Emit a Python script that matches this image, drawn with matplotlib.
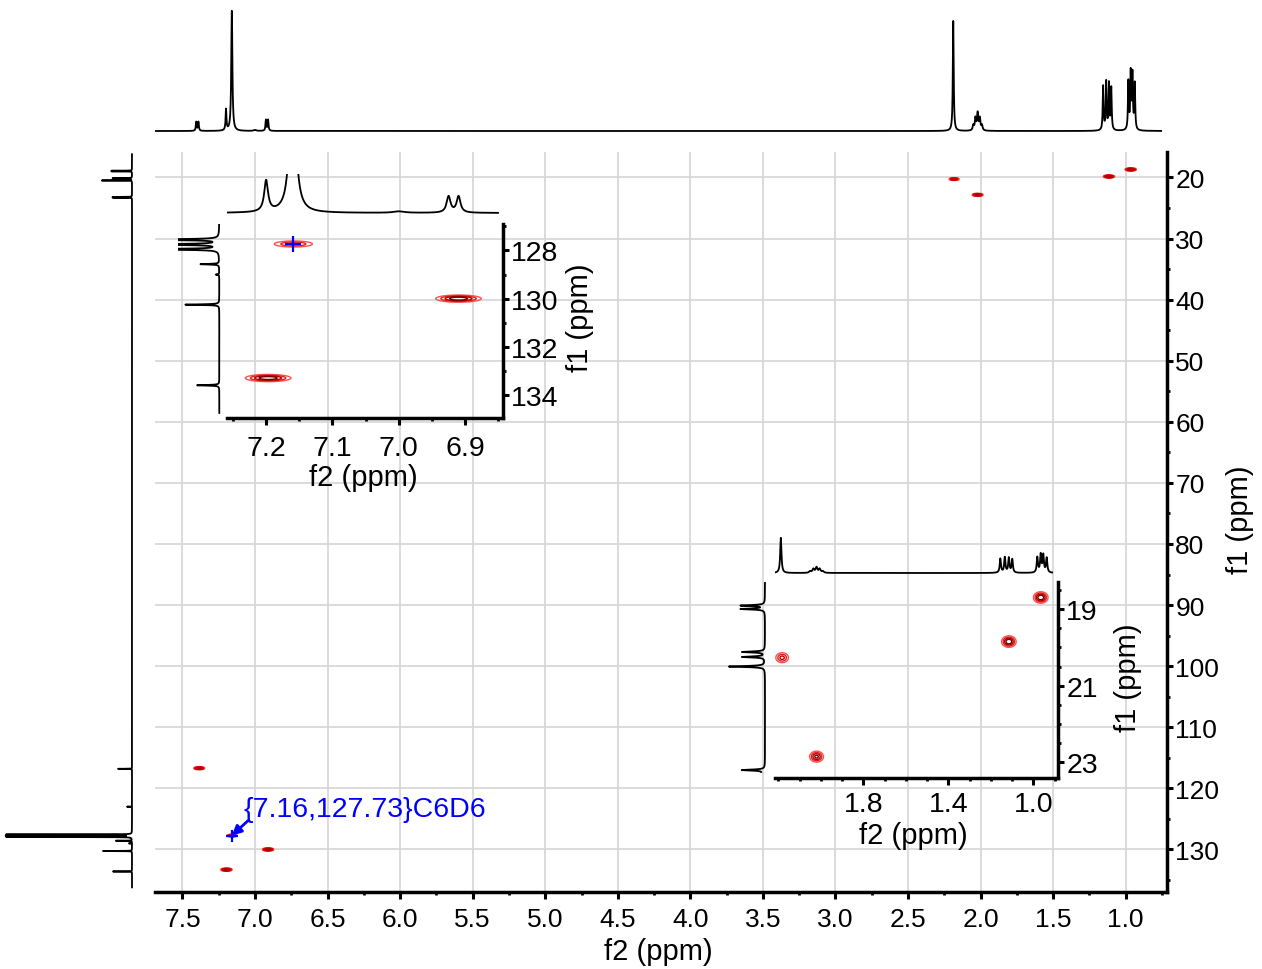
import numpy as np
import matplotlib
matplotlib.use('Agg')
import matplotlib.pyplot as plt
from matplotlib.ticker import MultipleLocator, FixedLocator, FormatStrFormatter

plt.rcParams['font.family'] = ['Liberation Sans', 'DejaVu Sans']

W, H = 1262, 970

# ---------------- data ----------------
# 1H projection peaks: position (ppm), height (px in main projection), half width (ppm)
h_ppm = [7.405, 7.390, 7.200, 7.160, 7.000, 6.925, 6.910, 2.188,
         2.050, 2.035, 2.020, 2.005, 1.990,
         1.155, 1.134, 1.115, 1.099, 0.981, 0.965, 0.953, 0.937]
h_int = [9, 9, 21, 120, 1, 11, 11, 110,
         5, 12, 17, 12, 5,
         44, 48, 46, 42, 48, 56, 54, 46]
h_wid = [0.0035, 0.0035, 0.0035, 0.0045, 0.01, 0.0035, 0.0035, 0.0035,
         0.005, 0.005, 0.005, 0.005, 0.005,
         0.0035, 0.0035, 0.0035, 0.0035, 0.0035, 0.0035, 0.0035, 0.0035]

# 13C projection peaks: position (ppm), height (px in main projection)
c_ppm = [18.91, 19.00, 20.12, 20.25, 20.50, 23.20, 23.30, 116.8, 123.0,
         127.55, 127.75, 127.95, 128.57, 129.0, 130.25, 133.6]
c_int = [20, 20, 19, 19, 30, 19, 19, 14, 5,
         125, 125, 125, 16, 3, 29, 19]
c_wid = 0.015

# HSQC cross peaks
hsqc_f2 = [0.965, 1.115, 2.182, 2.020, 7.385, 7.197, 6.910, 7.159]
hsqc_f1 = [18.70, 19.85, 20.27, 22.85, 116.70, 133.30, 130.00, 127.73]
hsqc_amp = [1.0, 1.0, 0.55, 0.8, 0.8, 1.0, 1.0, 0.5]
sig_f2, sig_f1 = 0.016, 0.07
levels = [0.1, 0.25, 0.45, 0.7]
inset_colors = ['#ff5050', '#e61e1e', '#b40000', '#700000']
main_colors = ['#ff3030', '#e00000', '#cc0000', '#b00000']

solvent = (7.16, 127.73)
solvent_label = '{7.16,127.73}C6D6'

in2_xticks = [1.0, 1.4, 1.8]
in2_yticks = [19, 21, 23]


def rect(x0, y0, x1, y1):
    return [x0 / W, 1 - y1 / H, (x1 - x0) / W, (y1 - y0) / H]


def lor(x, cs, hs, ws):
    y = np.zeros_like(x)
    ws = np.broadcast_to(ws, (len(cs),))
    for c, h, w in zip(cs, hs, ws):
        y += h * w ** 2 / ((x - c) ** 2 + w ** 2)
    return y


def axis_grid(lo, hi, step, centers):
    x = np.arange(lo, hi, step)
    return np.union1d(x, [c for c in centers if lo <= c <= hi])


h_x = axis_grid(0.70, 7.70, 0.0005, h_ppm)
h_y = lor(h_x, h_ppm, h_int, h_wid)
c_x = axis_grid(16.0, 137.0, 0.002, c_ppm)
c_y = lor(c_x, c_ppm, c_int, c_wid)


def draw_contours(ax, lw, colors):
    for x0, y0, a in zip(hsqc_f2, hsqc_f1, hsqc_amp):
        gx = np.linspace(x0 - 0.1, x0 + 0.1, 201)
        gy = np.linspace(y0 - 0.5, y0 + 0.5, 201)
        X, Y = np.meshgrid(gx, gy)
        Z = a * np.exp(-((X - x0) ** 2 / (2 * sig_f2 ** 2) + (Y - y0) ** 2 / (2 * sig_f1 ** 2)))
        ax.contour(X, Y, Z, levels=levels, colors=colors, linewidths=lw, zorder=3)


LW = 1.3
fig = plt.figure(figsize=(W / 100, H / 100), dpi=100)

# ---------------- main HSQC ----------------
main = fig.add_axes(rect(155, 153, 1167, 893))
main.set_xlim(7.6895, 0.715)
main.set_ylim(136.96, 15.84)
for s in ['top', 'left']:
    main.spines[s].set_visible(False)
for s in ['bottom', 'right']:
    main.spines[s].set_linewidth(2.5)
main.yaxis.tick_right()
main.xaxis.set_major_locator(MultipleLocator(0.5))
main.xaxis.set_minor_locator(MultipleLocator(0.25))
main.yaxis.set_major_locator(MultipleLocator(10))
main.yaxis.set_minor_locator(MultipleLocator(5))
main.tick_params(axis='x', which='major', direction='out', length=5, width=2.2, labelsize=19, pad=5.5)
main.tick_params(axis='y', which='major', direction='out', length=4.5, width=2.2, labelsize=19, pad=1.5)
main.tick_params(which='minor', direction='out', length=2.5, width=2.0)
main.xaxis.set_major_formatter(FormatStrFormatter('%.1f'))
main.grid(True, which='major', color='#d6d6d6', lw=1.2)
main.set_axisbelow(True)
draw_contours(main, 1.9, main_colors)
main.plot(*solvent, marker='+', color='blue', ms=9, mew=1.6, zorder=5)
main.annotate('', xy=solvent, xytext=(7.049, 125.29),
              arrowprops=dict(arrowstyle='-|>', color='blue', lw=2, mutation_scale=14,
                              shrinkA=0, shrinkB=0), zorder=5)
main.text(7.081, 123.4, solvent_label, color='blue', fontsize=20.5, ha='left', va='center')

# top 1H projection
top = fig.add_axes(rect(155, 5, 1167, 140))
top.set_xlim(7.6895, 0.715)
top.set_ylim(-8, 127)
m = (h_x >= 0.755) & (h_x <= 7.69)
top.plot(h_x[m], h_y[m], color='black', lw=LW)
top.axis('off')

# left 13C projection
left = fig.add_axes(rect(0, 153, 140, 893))
left.set_xlim(132, -8)
left.set_ylim(136.96, 15.84)
m = (c_x >= 16.2) & (c_x <= 136.2)
left.plot(c_y[m], c_x[m], color='black', lw=LW)
left.axis('off')

fig.text(658 / W, 1 - 952 / H, 'f2 (ppm)', ha='center', va='center', fontsize=21)
fig.text(1240 / W, 1 - 520 / H, 'f1 (ppm)', ha='center', va='center', fontsize=21, rotation=90)


# ---------------- insets ----------------
def style_inset(ax, xpad):
    ax.set_facecolor('none')
    for s in ['top', 'left']:
        ax.spines[s].set_visible(False)
    for s in ['bottom', 'right']:
        ax.spines[s].set_linewidth(2.5)
    ax.yaxis.tick_right()
    ax.tick_params(axis='x', which='major', direction='out', length=5, width=2.2, labelsize=20.5, pad=xpad)
    ax.tick_params(axis='y', which='major', direction='out', length=4.5, width=2.2, labelsize=20.5, pad=1.5)
    ax.tick_params(which='minor', direction='out', length=2.5, width=2.0)


in1 = fig.add_axes(rect(227, 225, 503, 419))
in1.set_xlim(7.259, 6.843)
in1.set_ylim(134.96, 126.90)
style_inset(in1, 7.5)
in1.xaxis.set_major_locator(MultipleLocator(0.1))
in1.xaxis.set_minor_locator(MultipleLocator(0.05))
in1.yaxis.set_major_locator(MultipleLocator(2))
in1.yaxis.set_minor_locator(MultipleLocator(1))
in1.xaxis.set_major_formatter(FormatStrFormatter('%.1f'))
in1.yaxis.set_major_formatter(FormatStrFormatter('%d'))
draw_contours(in1, 1.0, inset_colors)
in1.plot(*solvent, marker='+', color='blue', ms=12, mew=1.6, zorder=5)

in1t = fig.add_axes(rect(227, 175, 500, 216))
in1t.set_xlim(7.259, 6.843 + (503 - 500) / 663)
in1t.set_ylim(-2, 39)
mm = (h_x >= 6.85) & (h_x <= 7.259)
in1t.plot(h_x[mm], h_y[mm] * 1.48, color='black', lw=LW)
in1t.axis('off')

in1l = fig.add_axes(rect(178, 225, 221, 419))
in1l.set_xlim(41.3, -1.7)
in1l.set_ylim(134.96, 126.90)
mm = (c_x >= 126.85) & (c_x <= 134.75)
in1l.plot(c_y[mm] * 1.17, c_x[mm], color='black', lw=LW)
in1l.axis('off')

fig.text(363 / W, 1 - 478 / H, 'f2 (ppm)', ha='center', va='center', fontsize=21)
fig.text(580 / W, 1 - 318 / H, 'f1 (ppm)', ha='center', va='center', fontsize=21, rotation=90)

in2 = fig.add_axes(rect(775, 583, 1058, 779))
in2.set_xlim(2.2155, 0.8838)
in2.set_ylim(23.407, 18.296)
style_inset(in2, 4.5)
in2.xaxis.set_major_locator(FixedLocator(in2_xticks))
in2.xaxis.set_minor_locator(MultipleLocator(0.1))
in2.yaxis.set_major_locator(FixedLocator(in2_yticks))
in2.yaxis.set_minor_locator(MultipleLocator(0.5))
in2.xaxis.set_major_formatter(FormatStrFormatter('%.1f'))
in2.yaxis.set_major_formatter(FormatStrFormatter('%d'))
draw_contours(in2, 1.0, inset_colors)

in2t = fig.add_axes(rect(775, 535, 1053, 577))
in2t.set_xlim(2.2155, 0.8838 + (1058 - 1053) / 212.5)
in2t.set_ylim(-3, 39)
mm = (h_x >= 0.908) & (h_x <= 2.2155)
in2t.plot(h_x[mm], h_y[mm] * 0.32, color='black', lw=LW)
in2t.axis('off')

in2l = fig.add_axes(rect(728, 583, 767, 779))
in2l.set_xlim(37, -2)
in2l.set_ylim(23.407, 18.296)
mm = (c_x >= 18.3) & (c_x <= 23.25)
in2l.plot(c_y[mm] * 1.2, c_x[mm], color='black', lw=LW)
in2l.axis('off')

fig.text(913 / W, 1 - 836 / H, 'f2 (ppm)', ha='center', va='center', fontsize=21)
fig.text(1128 / W, 1 - 678 / H, 'f1 (ppm)', ha='center', va='center', fontsize=21, rotation=90)

fig.savefig('out.png', dpi=100)
